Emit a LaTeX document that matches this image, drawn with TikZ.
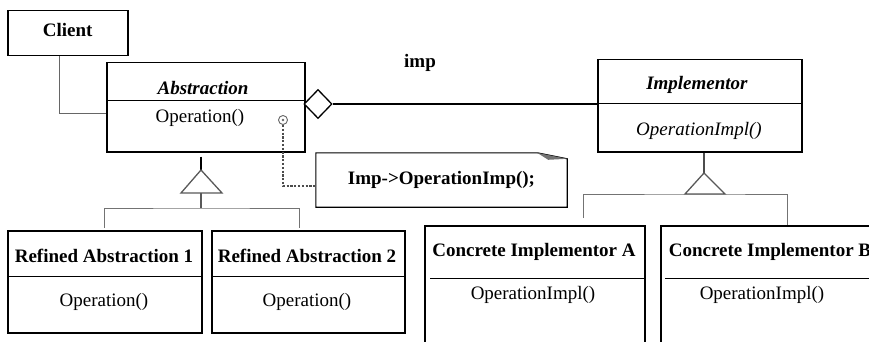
\documentclass[tikz,border=0pt]{standalone}
\usepackage{fontspec}
\setmainfont{Liberation Serif}
\usetikzlibrary{positioning,shapes.geometric}

\begin{document}
\begin{tikzpicture}[x=1pt, y=-1pt, font=\fontsize{19}{22}\selectfont,
  umlbox/.style={draw, line width=1.5pt, inner sep=0pt, anchor=north west},
  divline/.style={line width=0.9pt},
  genline/.style={draw=black!55, line width=1pt},
  tri/.style={draw=black!65, line width=1.3pt, fill=white},
  notebox/.style={line width=1.1pt},
  noteline/.style={draw=black!70, line width=2.2pt, dash pattern=on 2.2pt off 1.6pt}]
\useasboundingbox (0,0) rectangle (869,342);
\clip (0,0) rectangle (869,342);
%client
\node[umlbox, minimum width=120, minimum height=45] (client) at (7,10) {};
\node (clientName) at ([yshift=3]client.center) {\textbf{Client}};
%abstraction
\node[umlbox, minimum width=198, minimum height=89] (abs) at (106,62) {};
\draw[divline] (106,100) -- (304,100);
\node (absName) at (203,88) {\textbf{\textit{Abstraction}}};
\node (absOp) at (200,118) {Operation()};
\node[circle, draw=black!60, line width=0.9pt, inner sep=0pt, minimum size=9] (opMark) at (283,120) {};
\fill[black!60] (opMark) circle (1.3);
%implementor
\node[umlbox, minimum width=204, minimum height=92] (impl) at (597,59) {};
\draw[divline] (597,103) -- (801,103);
\node (implName) at (697,85) {\textbf{\textit{Implementor}}};
\node (implOp) at (699,131) {\textit{OperationImpl()}};
%refined
\node[umlbox, minimum width=194, minimum height=102] (ref1) at (7,230) {};
\draw[divline] (7,276) -- (201,276);
\node (ref1Name) at (104,256) {\textbf{Refined Abstraction 1}};
\node (ref1Op) at (104,302) {Operation()};
\node[umlbox, minimum width=193, minimum height=102] (ref2) at (211,230) {};
\draw[divline] (211,276) -- (404,276);
\node (ref2Name) at (307,256) {\textbf{Refined Abstraction 2}};
\node (ref2Op) at (307,302) {Operation()};
%concrete
\node[umlbox, minimum width=220, minimum height=150] (conA) at (424,225) {};
\draw[divline] (430,278) -- (644,278);
\node (conAName) at (534,252) {\textbf{Concrete Implementor A}};
\node (conAOp) at (533,295) {OperationImpl()};
\node[umlbox, minimum width=220, minimum height=150] (conB) at (660,225) {};
\draw[divline] (665,278) -- (880,278);
\node (conBName) at (770,252) {\textbf{Concrete Implementor B}};
\node (conBOp) at (762,295) {OperationImpl()};

%client link
\draw[draw=black!60, line width=1.2pt] ([xshift=-8]client.south) |- ([yshift=-6.5]abs.west);
%aggregation
\node[diamond, draw, line width=1.3pt, fill=white, inner sep=0pt, minimum width=28, minimum height=29] (agg) at (318,104) {};
\draw[line width=1.1pt] (agg.east) -- (agg.east -| impl.west);
\node (impLabel) at (420,63) {\textbf{imp}};

%generalization 1
\coordinate (absTip) at (201,170);
\coordinate (absBar) at (201,208);
\draw[line width=1.2pt] (absTip |- abs.south) ++(0,4) -- (absTip);
\draw[tri] (absTip) -- ++(-20,23) -- ++(41,0) -- cycle;
\draw[draw=black!65, line width=1.2pt] (absTip) ++(0,23) -- (absBar);
\draw[genline] ([yshift=2]ref1.north) |- (absBar) -| ([xshift=-9,yshift=2]ref2.north);
%generalization 2
\coordinate (impTip) at (704,173);
\coordinate (impBar) at (704,194);
\draw[draw=black!70, line width=1.3pt] (impTip |- impl.south) -- (impTip);
\draw[tri] (impTip) -- ++(-19,21) -- ++(40,0) -- cycle;
\draw[genline] ([xshift=49,yshift=7]conA.north) |- (impBar) -| ([xshift=17]conB.north);

%note
\node[inner sep=0pt, minimum width=251, minimum height=54] (note) at (441.5,180) {\textbf{Imp->OperationImp();}};
\draw[notebox] (note.south west) -- (note.north west) -- ([xshift=-30]note.north east) -- ([yshift=-6]note.north east) -- (note.south east) -- cycle;
\fill[black!55] ([xshift=-30]note.north east) -- ([yshift=-6]note.north east) -- ([xshift=-19,yshift=-7]note.north east) -- cycle;
\draw[noteline] (opMark.south) |- ([yshift=-6]note.west);
\end{tikzpicture}
\end{document}
